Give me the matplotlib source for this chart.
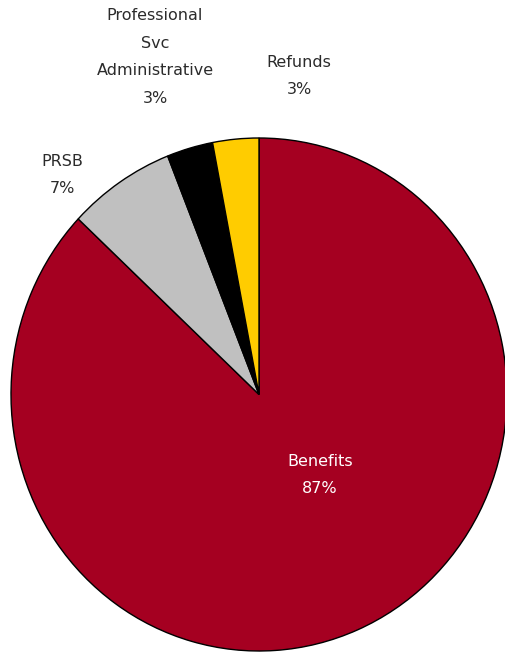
import matplotlib
matplotlib.use("Agg")
import matplotlib.pyplot as plt

# Expense shares
categories = ["Benefits", "PRSB", "Professional\nSvc\nAdministrative", "Refunds"]
values = [87, 7, 3, 3]
colors = ["#A50021", "#C0C0C0", "#000000", "#FFCC00"]

W, H = 506, 655
fig = plt.figure(figsize=(W / 100, H / 100), dpi=100)
fig.patch.set_facecolor("white")

# pie bounding box in pixels (left, top, right, bottom)
px_l, px_t, px_r, px_b = 11, 138, 507, 651
ax = fig.add_axes([px_l / W, 1 - px_b / H, (px_r - px_l) / W, (px_b - px_t) / H])
ax.pie(values, colors=colors, startangle=90, counterclock=False,
       radius=1.0, wedgeprops=dict(edgecolor="black", linewidth=1.0))
ax.set_aspect("auto")
ax.set_xlim(-1, 1)
ax.set_ylim(-1, 1)
ax.axis("off")

font = dict(family="DejaVu Sans", fontsize=11.5, ha="center", va="center",
            linespacing=2.08)

# label anchor points (pixel centres of each text block)
label_pos = {
    "Benefits": (320, 475, "white"),
    "PRSB": (62, 175, "#2b2b2b"),
    "Professional\nSvc\nAdministrative": (155, 57, "#2b2b2b"),
    "Refunds": (299, 76, "#2b2b2b"),
}
for cat, val in zip(categories, values):
    x, y, c = label_pos[cat]
    fig.text(x / W, 1 - y / H, f"{cat}\n{val}%", color=c, **font)

fig.savefig("out.png", dpi=100)
